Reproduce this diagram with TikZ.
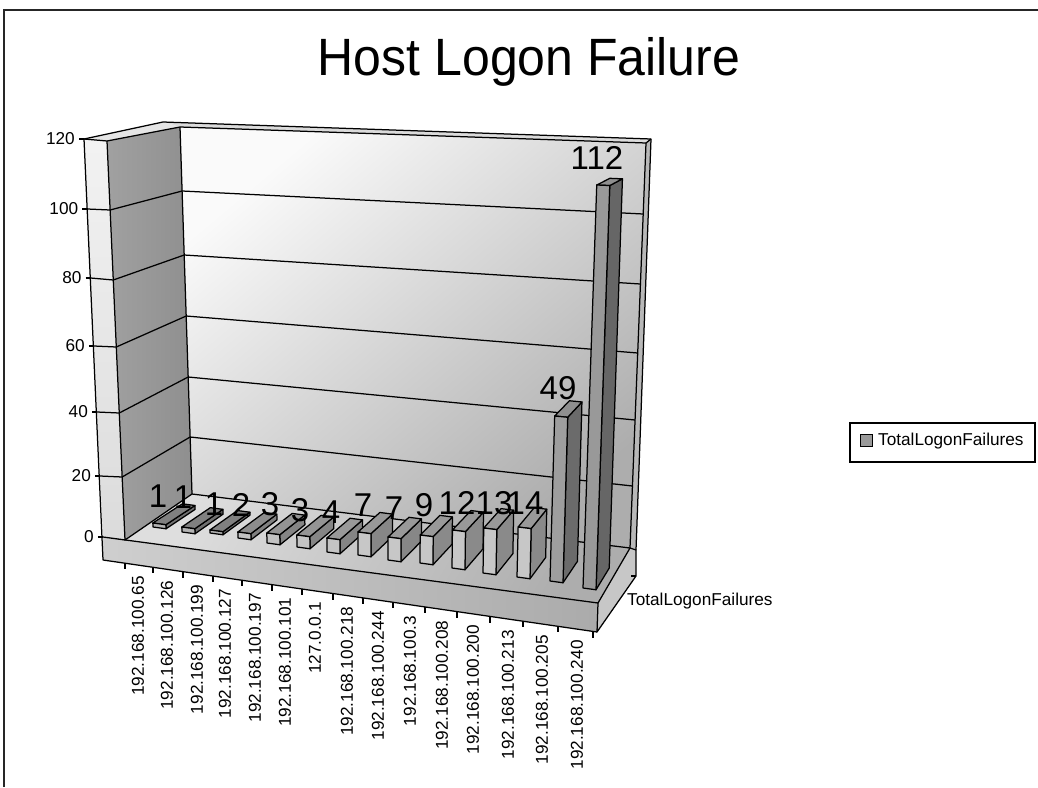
\documentclass[tikz,border=0pt]{standalone}
\usepackage{fontspec}
\setmainfont{Liberation Sans}
\usetikzlibrary{calc}
\tikzset{
  edge/.style={draw=black, line width=1.25pt, line join=round},
  grid/.style={draw=black, line width=1.25pt},
  axlabel/.style={font=\fontsize{17.2}{19}\selectfont, inner sep=0pt},
  vallabel/.style={font=\fontsize{33}{35}\selectfont, inner sep=0pt},
}
\begin{document}
\begin{tikzpicture}[x=1pt,y=-1pt]
\useasboundingbox (0,0) rectangle (1038,787);
\fill[white] (0,0) rectangle (1038,787);
% outer frame
\draw[line width=2pt, black!85] (4,787) -- (4,10) -- (1038,10);

% title
\node[font=\fontsize{50}{54}\selectfont, yscale=1.05] (title) at (529,62) {Host Logon Failure};

% wall reference points per value level
\foreach \v/\ya/\yw/\yc/\yr in {120/139/141/127/143,100/209/210/191/214,80/278/280/255/284,
  60/346/347/316/353,40/412/413/377/420,20/476/477/437/486,0/537/540/494/548}{
  \pgfmathsetmacro\xa{84+0.0477*(\ya-139)}
  \pgfmathsetmacro\xw{107+0.0451*(\yw-141)}
  \pgfmathsetmacro\xc{180+0.0327*(\yc-127)}
  \pgfmathsetmacro\xr{646-0.0395*(\yr-143)}
  \coordinate (ax\v) at (\xa,\ya);
  \coordinate (sw\v) at (\xw,\yw);
  \coordinate (bc\v) at (\xc,\yc);
  \coordinate (br\v) at (\xr,\yr);
}
\coordinate (swtop) at (163,122);
\coordinate (brtop) at (651,139);
\coordinate (brbot) at (636,550);
\coordinate (flfr) at (598,603);
\coordinate (flfrb) at (597,632);
\coordinate (flrb) at (636,576);
\coordinate (flfl) at (103,560);

% back wall
\shade[shading=axis, top color=black!2, bottom color=black!32, shading angle=40]
  (bc120) -- (br120) -- (br0) -- (bc0) -- cycle;
\fill[black!14] (swtop) -- (brtop) -- (br120) -- (bc120) -- cycle;
\fill[black!28] (br120) -- (brtop) -- (brbot) -- (br0) -- cycle;
% side wall
\shade[left color=black!37, right color=black!44] (sw120) -- (bc120) -- (bc0) -- (sw0) -- cycle;
\shade[top color=black!5, bottom color=black!14] (ax120) -- (sw120) -- (sw0) -- (ax0) -- cycle;
\fill[black!10] (ax120) -- (swtop) -- (bc120) -- (sw120) -- cycle;
% floor
\shade[shading=axis, top color=black!13, bottom color=black!32, shading angle=60]
  (sw0) -- (bc0) -- (br0) -- (flfr) -- cycle;
\shade[left color=black!19, right color=black!33] (ax0) -- (flfr) -- (flfrb) -- (flfl) -- cycle;
\fill[black!22] (flfr) -- (br0) -- (brbot) -- (flrb) -- (flfrb) -- cycle;

% gridlines
\foreach \v in {20,40,60,80,100}{
  \draw[grid] (ax\v) -- (sw\v) -- (bc\v) -- (br\v);
}
% structure edges
\draw[edge] (ax120) -- (swtop) -- (brtop) -- (brbot);
\draw[edge] (sw120) -- (bc120) -- (br120) -- (brtop);
\draw[edge] (br120) -- (br0);
\draw[edge] (sw120) -- (sw0) -- (bc0) -- (bc120);
\draw[edge] (ax120) -- (sw120);
\draw[edge] (bc0) -- (br0) -- (flfr) -- (ax0) -- (sw0);
\draw[edge] (br0) -- (brbot) -- (flrb) -- (flfrb) -- (flfr);
\draw[edge] (ax120) -- (flfl) -- (flfrb);

% value axis ticks and labels
\foreach \v in {0,20,40,60,80,100,120}{
  \draw[edge] ($(ax\v)+(-5,0)$) -- (ax\v);
  \node[axlabel, anchor=east] (yl\v) at ($(ax\v)+(-9,0)$) {\v};
}

% category axis ticks
\foreach \tx in {125,153,183,213,242,272,302,333,363,393,425,457,490,523,558,593}{
  \pgfmathsetmacro\ty{560+0.146*(\tx-103)}
  \draw[edge] (\tx,\ty) -- (\tx,\ty+6);
}
% category labels
\foreach \i/\cx/\name in {1/138/192.168.100.65, 2/167/192.168.100.126, 3/197/192.168.100.199,
  4/225/192.168.100.127, 5/255/192.168.100.197, 6/285/192.168.100.101, 7/315/127.0.0.1,
  8/347/192.168.100.218, 9/378/192.168.100.244, 10/410/192.168.100.3, 11/442/192.168.100.208,
  12/473/192.168.100.200, 13/508/192.168.100.213, 14/542/192.168.100.205, 15/577/192.168.100.240}{
  \pgfmathsetmacro\cy{571+0.146*(\cx-103)}
  \node[axlabel, rotate=90, anchor=east] (cat\i) at (\cx,\cy) {\name};
}

% depth axis tick and label
\draw[edge] (flrb) -- ++(-5,0);
\node[axlabel, anchor=west] (serlabel) at (627,601) {TotalLogonFailures};

% bars: front-left base x, base y, top y, front/side/top darkness
\coordinate (vp) at (953,4);
\foreach \xb/\yb/\yt/\cf/\cs/\ct in {153/527/523/30/56/50, 182/532/527/30/56/50, 210/533/530/30/56/50,
  238/538/532/24/50/45, 267/543/533/24/48/42, 297/547/535/23/48/42, 327/552/538/23/48/40,
  358/555/532/22/47/40, 388/560/537/22/47/40, 420/563/535/22/46/40, 452/568/530/22/46/40,
  483/573/528/22/46/40, 517/577/527/22/46/40, 550/581/416/38/58/44, 583/588/185/40/60/44}{
  \pgfmathsetmacro\xt{\xb+(\xb-384)/(\yb-6424)*(\yt-\yb)}
  \pgfmathsetmacro\sb{(\yb-3)/(\xb+3714)}
  \pgfmathsetmacro\st{(\yt-3)/(\xt+3714)}
  \coordinate (fbl) at (\xb,\yb);
  \coordinate (fbr) at (\xb+13,\yb+13*\sb);
  \coordinate (ftr) at (\xt+13,\yt+13*\st);
  \coordinate (ftl) at (\xt,\yt);
  \coordinate (bbr) at ($(fbr)!0.037!(vp)$);
  \coordinate (btr) at ($(ftr)!0.037!(vp)$);
  \coordinate (btl) at ($(ftl)!0.037!(vp)$);
  \filldraw[edge, fill=black!\cs] (fbr) -- (bbr) -- (btr) -- (ftr) -- cycle;
  \filldraw[edge, fill=black!\ct] (ftl) -- (ftr) -- (btr) -- (btl) -- cycle;
  \filldraw[edge, fill=black!\cf] (fbl) -- (fbr) -- (ftr) -- (ftl) -- cycle;
}

% value labels
\foreach \i/\lx/\ly/\val in {1/158/496/1, 2/183/497/1, 3/214/504/1, 4/241/505/2, 5/270/504/3,
  6/300/510/3, 7/331/512/4, 8/363/505/7, 9/394/508/7, 10/424/505/9, 11/457/503/12,
  12/494/503/13, 13/525/503/14, 14/558/388/49, 15/597/158/112}{
  \node[vallabel] (val\i) at (\lx,\ly) {\val};
}

% legend
\draw[line width=1.3pt] (850,423) rectangle (1035,462);
\node[draw=black, line width=1pt, fill=black!40, minimum size=12pt, inner sep=0pt] (legmark) at (866.5,440.5) {};
\node[axlabel, anchor=west] (legtext) at (878,441) {TotalLogonFailures};
\end{tikzpicture}
\end{document}
